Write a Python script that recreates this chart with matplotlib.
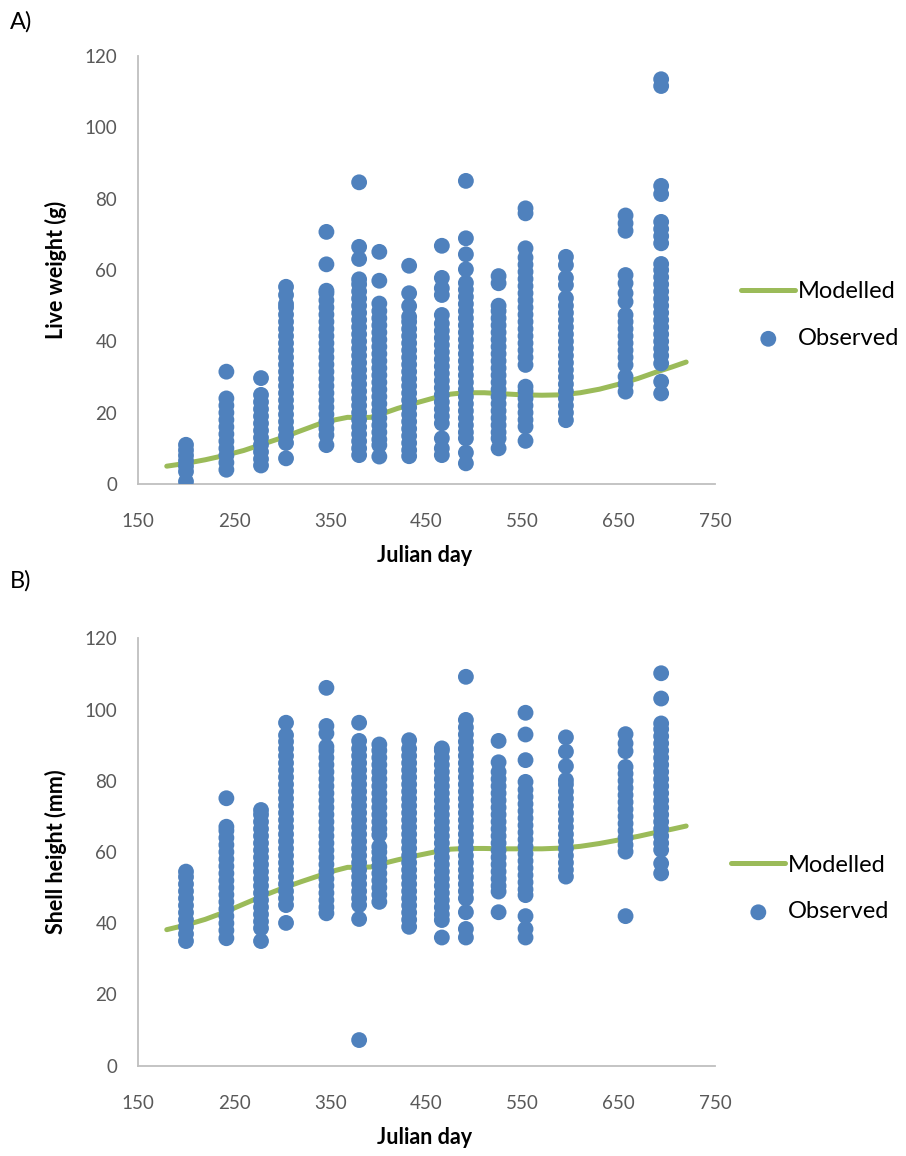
import numpy as np
import matplotlib
matplotlib.use("Agg")
import matplotlib.pyplot as plt

plt.rcParams['font.family'] = ['Lato', 'DejaVu Sans']

# sampling days (Julian day)
days = [200, 242, 278, 304, 346, 380, 401, 432, 466, 491, 525, 553, 595, 657, 694]

# observed live weight (g), one list per sampling day
weight_obs = [
    [0.7, 3.5, 5, 6.5, 8, 9.5, 11],
    [4, 6, 8, 10, 12, 14, 16, 18, 20, 22, 24, 31.5],
    [5.2, 7, 9, 11, 13, 15, 17, 19, 21, 23, 25, 29.7],
    [7.2, 11.5, 13.5, 15.5, 17.5, 19.5, 21.5, 23.5, 25.5, 27.5, 29.5, 31.5, 33.5, 35.5,
     37.5, 39.5, 41.5, 43.5, 45.5, 47.5, 49.5, 50.5, 53, 55.3],
    [10.9, 13.7, 15.5, 17.5, 19.5, 21.5, 23.5, 25.5, 27.5, 29.5, 31.5, 33.5, 35.5, 37.5,
     39.5, 41.5, 43.5, 45.5, 47.5, 49.5, 51.5, 53.5, 54.2, 61.6, 70.7],
    [8.1, 10, 12, 14, 16, 18, 20, 22, 24, 26, 28, 30, 32, 34, 36, 38, 40, 42, 44, 46, 48,
     50, 52, 54, 56, 57.4, 63.1, 66.5, 84.6],
    [7.7, 10.9, 12.5, 14.5, 16.5, 18.5, 20.5, 22.5, 24.5, 26.5, 28.5, 30.5, 32.5, 34.5,
     36.5, 38.5, 40.5, 42.5, 44.5, 46.5, 48.5, 50.6, 57.0, 65.1],
    [7.8, 9.5, 11.5, 13.5, 15.5, 17.5, 19.5, 21.5, 23.5, 25.5, 27.5, 29.5, 31.5, 33.5,
     35.5, 37.5, 39.5, 41.5, 43.5, 45.5, 46.9, 49.9, 53.5, 61.2],
    [8.1, 10.0, 12.8, 17, 19, 21, 23, 25, 27, 29, 31, 33, 35, 37, 39, 41, 43, 45, 47.4,
     53, 54.9, 57.8, 66.8],
    [5.8, 8.8, 12.8, 14.5, 16.5, 18.5, 20.5, 22.5, 24.5, 26.5, 28.5, 30.5, 32.5, 34.5,
     36.5, 38.5, 40.5, 42.5, 44.5, 46.5, 48.5, 50.5, 52.5, 54.5, 56.4, 60.2, 64.4, 68.9, 85.0],
    [10.0, 12.8, 14.5, 16.5, 18.5, 20.5, 22.5, 24.5, 26.5, 28.5, 30.5, 32.5, 34.5, 36.5,
     38.5, 40.5, 42.5, 44.5, 46.5, 48.5, 50.0, 56.3, 58.3],
    [12.1, 16.1, 18, 20, 22, 24, 26, 27.3, 33.4, 35.5, 37.5, 39.5, 41.5, 43.5, 45.5, 47.5,
     49.5, 51.5, 53.5, 55.5, 57.5, 59.5, 61.5, 63.5, 66.1, 75.9, 77.3],
    [17.9, 20, 22, 24, 26, 28, 30, 32, 34, 36, 38, 40, 42, 44, 46, 48, 50, 52.1, 55.8,
     57.8, 61.4, 63.7],
    [25.9, 28, 30.1, 33.4, 35.5, 37.5, 39.5, 41.5, 43.5, 45.5, 47.4, 51.1, 53.5, 56.3,
     58.6, 71.0, 73.1, 75.3],
    [25.4, 28.7, 33.8, 36, 38, 40, 42, 44, 46, 48, 50, 52, 54, 56, 58, 60, 61.7, 67.5,
     69.5, 71.5, 73.5, 81.3, 83.6, 111.6, 113.5],
]

# observed shell height (mm), one list per sampling day
height_obs = [
    [35, 37, 39, 41, 43, 45, 47, 49, 51, 53, 54.5],
    [35.8, 38, 40, 42, 44, 46, 48, 50, 52, 54, 56, 58, 60, 62, 64, 66, 67.1, 75.1],
    [35.0, 38.6, 40.5, 42.5, 44.5, 46.5, 48.5, 50.5, 52.5, 54.5, 56.5, 58.5, 60.5, 62.5,
     64.5, 66.5, 68.5, 70.5, 71.8],
    [40.1, 45.1, 47, 49, 51, 53, 55, 57, 59, 61, 63, 65, 67, 69, 71, 73, 75, 77, 79, 81,
     83, 85, 87, 89, 91, 92.8, 96.3],
    [42.8, 44.5, 46.5, 48.5, 50.5, 52.5, 54.5, 56.5, 58.5, 60.5, 62.5, 64.5, 66.5, 68.5,
     70.5, 72.5, 74.5, 76.5, 78.5, 80.5, 82.5, 84.5, 86.5, 88.5, 89.6, 93.3, 95.4, 106.1],
    [7.2, 41.2, 45.1, 47, 49, 51, 53, 55, 57, 59, 61, 63, 65, 67, 69, 71, 73, 75, 77, 79,
     81, 83, 85, 87, 89, 91.2, 96.3],
    [46.0, 48, 50, 52, 54, 56, 58, 60, 61.5, 64.8, 66.5, 68.5, 70.5, 72.5, 74.5, 76.5,
     78.5, 80.5, 82.5, 84.5, 86.5, 88.5, 90.2],
    [39.0, 41, 43, 45, 47, 49, 51, 53, 55, 57, 59, 61, 63, 65, 67, 69, 71, 73, 75, 77, 79,
     81, 83, 85, 87, 89, 91.4],
    [36.0, 40.9, 42.5, 44.5, 46.5, 48.5, 50.5, 52.5, 54.5, 56.5, 58.5, 60.5, 62.5, 64.5,
     66.5, 68.5, 70.5, 72.5, 74.5, 76.5, 78.5, 80.5, 82.5, 84.5, 86.5, 88.5, 89.1],
    [36.0, 38.4, 43.1, 47.0, 49, 51, 53, 55, 57, 59, 61, 63, 65, 67, 69, 71, 73, 75, 77,
     79, 81, 83, 85, 87, 89, 91, 93, 95, 97.1, 109.2],
    [43.1, 48.9, 50.5, 52.5, 54.5, 56.5, 58.5, 60.5, 62.5, 64.5, 66.5, 68.5, 70.5, 72.5,
     74.5, 76.5, 78.5, 80.5, 82.5, 85.2, 91.2],
    [36.0, 38.4, 42.0, 47.9, 49.5, 51.5, 53.5, 55.5, 57.5, 59.5, 61.5, 63.5, 65.5, 67.5,
     69.5, 71.5, 73.5, 75.5, 77.5, 79.7, 85.8, 93.0, 99.1],
    [53.1, 55, 57, 59, 61, 63, 65, 67, 69, 71, 73, 75, 77, 79, 80.2, 84.1, 88.2, 92.2],
    [42.0, 60.1, 62, 64, 66, 68, 70, 72, 74, 76, 78, 80, 82, 83.9, 88.3, 90.5, 93.1],
    [54.0, 56.8, 60.6, 62.5, 64.5, 66.5, 68.5, 70.5, 72.5, 74.5, 76.5, 78.5, 80.5, 82.5,
     84.5, 86.5, 88.5, 90.5, 92.5, 94.5, 96.1, 103.1, 110.2],
]

# model output
model_day = [180, 200, 220, 240, 260, 280, 300, 320, 340, 355, 368, 380, 392, 405, 420,
             440, 460, 475, 490, 510, 530, 550, 570, 590, 610, 630, 650, 670, 690, 705, 720]
weight_model = [5.0, 5.8, 6.8, 8.0, 9.4, 11.2, 13.0, 15.0, 17.0, 18.0, 18.7, 18.6, 18.7,
                19.8, 21.2, 22.8, 24.3, 25.2, 25.6, 25.6, 25.3, 25.0, 24.9, 25.0, 25.6,
                26.6, 28.0, 29.6, 31.5, 32.8, 34.2]
height_model = [38.2, 39.5, 41.1, 43.1, 45.4, 47.7, 49.8, 51.7, 53.5, 54.8, 55.7, 55.7,
                55.8, 56.8, 57.8, 59.0, 60.1, 60.8, 61.0, 61.0, 60.9, 60.9, 60.9, 61.1,
                61.6, 62.4, 63.4, 64.4, 65.6, 66.4, 67.3]

blue = '#4F81BD'
green = '#9BBB59'
grey = '#595959'

fig = plt.figure(figsize=(9.06, 11.56), dpi=100)
axA = fig.add_axes([0.1522, 0.5813, 0.637, 0.3702])
axB = fig.add_axes([0.1522, 0.0781, 0.637, 0.3697])


def draw(ax, obs, model, ylab, leg_x, leg_y):
    xs = np.concatenate([[d] * len(v) for d, v in zip(days, obs)])
    ys = np.concatenate(obs)
    ax.plot(model_day, model, color=green, lw=3.6, solid_capstyle='round',
            label='Modelled', zorder=2)
    ax.scatter(xs, ys, s=130, color=blue, edgecolors='none', label='Observed', zorder=3)
    ax.set_xlim(150, 750)
    ax.set_ylim(0, 120)
    ax.set_xticks(range(150, 751, 100))
    ax.set_yticks(range(0, 121, 20))
    ax.tick_params(length=0, labelsize=13.5, colors=grey)
    ax.tick_params(axis='x', pad=21)
    ax.tick_params(axis='y', pad=15)
    for s in ['top', 'right']:
        ax.spines[s].set_visible(False)
    for s in ['left', 'bottom']:
        ax.spines[s].set_color('#BFBFBF')
        ax.spines[s].set_linewidth(1.3)
    ax.set_xlabel('Julian day', fontsize=15.5, fontweight='bold', va='center')
    ax.xaxis.set_label_coords(0.497, -0.168)
    ax.set_ylabel(ylab, fontsize=15.5, fontweight='bold', va='center')
    ax.yaxis.set_label_coords(-0.142, 0.5)
    ax.legend(loc='center left', bbox_to_anchor=(leg_x, leg_y),
              bbox_transform=fig.transFigure, frameon=False, fontsize=17,
              handlelength=2.3, handletextpad=0.1, labelspacing=1.1,
              borderpad=0, markerscale=1.0)


draw(axA, weight_obs, weight_model, 'Live weight (g)', 0.805, 0.7275)
draw(axB, height_obs, height_model, 'Shell height (mm)', 0.794, 0.2314)

fig.text(0.011, 1 - 22 / 1156, 'A)', fontsize=17, va='center')
fig.text(0.011, 1 - 581 / 1156, 'B)', fontsize=17, va='center')

fig.savefig('out.png', dpi=100)
